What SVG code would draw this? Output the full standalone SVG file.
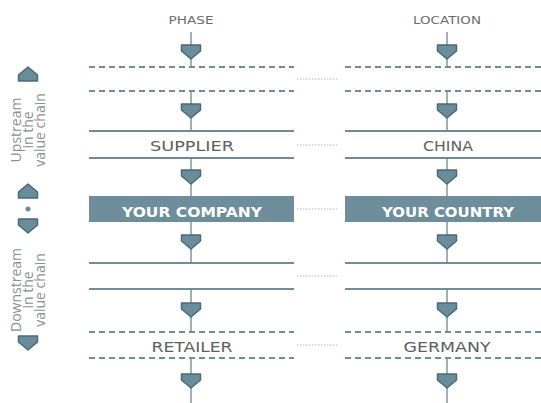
<svg xmlns="http://www.w3.org/2000/svg" width="541" height="403" viewBox="0 0 541 403">
<style>
.h{stroke:#6f8b97;stroke-width:2;fill:none}
.d{stroke:#6f8b97;stroke-width:2;fill:none;stroke-dasharray:6,4}
.v{stroke:#9fb0b8;stroke-width:2;fill:none}
.dot{stroke:#b0b5b8;stroke-width:1;fill:none;stroke-dasharray:1.5,1.5}
.box{fill:#6e8e9b}
.lbl{font-family:"DejaVu Sans",sans-serif;font-size:14px;fill:#5c5f61;text-anchor:middle}
.wl{font-family:"DejaVu Sans",sans-serif;font-size:14px;font-weight:bold;fill:#ffffff;text-anchor:middle}
.hd{font-family:"DejaVu Sans",sans-serif;font-size:11px;fill:#6a6d70;text-anchor:middle}
.lg{font-family:"Open Sans",sans-serif;font-size:14px;fill:#8a8f93;text-anchor:middle}
</style>
<defs>
<path id="ad" d="M-9.5,-7 H9.5 V-1 L0,7 L-9.5,-1 Z" fill="#6a8d9c" stroke="#4b6976" stroke-width="1.5" stroke-linejoin="round"/>
<path id="au" d="M-9.5,7 H9.5 V1 L0,-7 L-9.5,1 Z" fill="#6a8d9c" stroke="#4b6976" stroke-width="1.5" stroke-linejoin="round"/>
</defs>

<g id="connectors">
<path class="v" d="M191,32V67 M191,91V131 M191,158V196 M191,222V263 M191,289V332 M191,358V403"/>
<path class="v" d="M447,32V67 M447,91V131 M447,158V196 M447,222V263 M447,289V332 M447,358V403"/>
<use href="#ad" x="191" y="52"/>
<use href="#ad" x="191" y="111"/>
<use href="#ad" x="191" y="177"/>
<use href="#ad" x="191" y="242"/>
<use href="#ad" x="191" y="310"/>
<use href="#ad" x="191" y="381"/>
<use href="#ad" x="447" y="52"/>
<use href="#ad" x="447" y="111"/>
<use href="#ad" x="447" y="177"/>
<use href="#ad" x="447" y="242"/>
<use href="#ad" x="447" y="310"/>
<use href="#ad" x="447" y="381"/>
<path class="dot" d="M297,79H337 M297,145H337 M297,209H337 M297,276H337 M297,345H337"/>
</g>

<g id="headers">
<text class="hd" x="191" y="24" textLength="45" lengthAdjust="spacingAndGlyphs">PHASE</text>
<text class="hd" x="447" y="24" textLength="68" lengthAdjust="spacingAndGlyphs">LOCATION</text>
</g>

<g id="phase-row1">
<path class="d" d="M89,67H294 M89,91H294"/>
</g>
<g id="location-row1">
<path class="d" d="M345,67H541 M345,91H541"/>
</g>

<g id="supplier">
<path class="h" d="M89,131H294 M89,158H294"/>
<text class="lbl" x="192" y="151" textLength="84" lengthAdjust="spacingAndGlyphs">SUPPLIER</text>
</g>
<g id="china">
<path class="h" d="M345,131H541 M345,158H541"/>
<text class="lbl" x="448" y="151" textLength="50" lengthAdjust="spacingAndGlyphs">CHINA</text>
</g>

<g id="your-company">
<rect class="box" x="89" y="196" width="205" height="26"/>
<text class="wl" x="192" y="217" textLength="140" lengthAdjust="spacingAndGlyphs">YOUR COMPANY</text>
</g>
<g id="your-country">
<rect class="box" x="345" y="196" width="196" height="26"/>
<text class="wl" x="448" y="217" textLength="132" lengthAdjust="spacingAndGlyphs">YOUR COUNTRY</text>
</g>

<g id="phase-row4">
<path class="h" d="M89,263H294 M89,289H294"/>
</g>
<g id="location-row4">
<path class="h" d="M345,263H541 M345,289H541"/>
</g>

<g id="retailer">
<path class="d" d="M89,332H294 M89,358H294"/>
<text class="lbl" x="192" y="352" textLength="81" lengthAdjust="spacingAndGlyphs">RETAILER</text>
</g>
<g id="germany">
<path class="d" d="M345,332H541 M345,358H541"/>
<text class="lbl" x="447" y="352" textLength="87" lengthAdjust="spacingAndGlyphs">GERMANY</text>
</g>

<g id="legend">
<use href="#au" x="28" y="74"/>
<text class="lg" transform="translate(25,130) rotate(-90)"><tspan x="0" y="-4">Upstream</tspan><tspan x="0" y="8">in the</tspan><tspan x="0" y="20">value chain</tspan></text>
<use href="#au" x="28" y="191"/>
<circle cx="28" cy="209" r="2.5" fill="#6a8d9c"/>
<use href="#ad" x="28" y="226"/>
<text class="lg" transform="translate(25,290) rotate(-90)"><tspan x="0" y="-4">Downstream</tspan><tspan x="0" y="8">in the</tspan><tspan x="0" y="20">value chain</tspan></text>
<use href="#ad" x="28" y="343"/>
</g>
</svg>
